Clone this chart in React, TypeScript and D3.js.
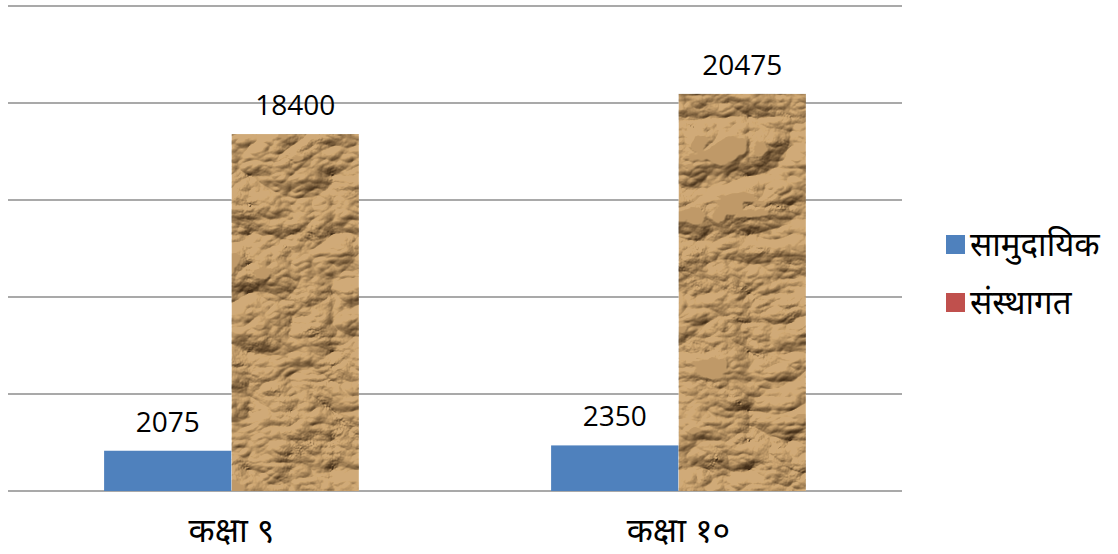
import React from "react";
import * as d3 from "d3";

const categories = ["कक्षा ९", "कक्षा १०"];
const seriesNames = ["सामुदायिक", "संस्थागत"];
const communityValues = [2075, 2350];
const institutionalValues = [18400, 20475];
const yTicks = [0, 5000, 10000, 15000, 20000, 25000];

const W = 1118;
const H = 554;
const margin = { left: 8, right: 216, top: 6, bottom: 63 };

export default function App() {
  const innerW = W - margin.left - margin.right;
  const x = d3.scaleBand<string>().domain(categories).range([margin.left, margin.left + innerW]).paddingInner(0.43).paddingOuter(0.215);
  const y = d3.scaleLinear().domain([0, 25000]).range([H - margin.bottom, margin.top]);
  const xs = d3.scaleBand<number>().domain([0, 1]).range([0, x.bandwidth()]);
  const font = "'Open Sans', 'Noto Sans', sans-serif";
  const series = [communityValues, institutionalValues];
  return (
    <svg width={W} height={H} style={{ position: "absolute", left: 0, top: 0, background: "#fff" }}>
      <defs>
        <filter id="crumple" x="0" y="0" width="100%" height="100%" filterUnits="objectBoundingBox" colorInterpolationFilters="sRGB">
          <feTurbulence type="turbulence" baseFrequency="0.012 0.017" numOctaves="4" seed="11" result="noise" />
          <feColorMatrix in="noise" type="matrix" values="0 0 0 0 0  0 0 0 0 0  0 0 0 0 0  1.3 0.5 0 0 0" result="bump" />
          <feDiffuseLighting in="bump" surfaceScale="6" diffuseConstant="1" lightingColor="#ffffff" result="lit">
            <feDistantLight azimuth="235" elevation="45" />
          </feDiffuseLighting>
          <feComponentTransfer in="lit" result="soft">
            <feFuncR type="linear" slope="0.85" intercept="0.32" />
            <feFuncG type="linear" slope="0.9" intercept="0.27" />
            <feFuncB type="linear" slope="0.95" intercept="0.2" />
          </feComponentTransfer>
          <feBlend in="soft" in2="SourceGraphic" mode="multiply" result="col" />
          <feComposite in="col" in2="SourceGraphic" operator="in" />
        </filter>
      </defs>
      {yTicks.map((t) => (
        <line key={t} x1={margin.left} x2={margin.left + innerW} y1={y(t)} y2={y(t)} stroke="#8c8c8c" strokeWidth={1.6} />
      ))}
      {categories.map((c, i) => (
        <g key={c}>
          {series.map((vals, s) => {
            const bx = (x(c) as number) + (xs(s) as number);
            const by = y(vals[i]);
            return (
              <g key={s}>
                <rect
                  x={bx}
                  y={by}
                  width={xs.bandwidth()}
                  height={y(0) - by}
                  fill={s === 0 ? "#4f81bd" : "#d0aa78"}
                  filter={s === 1 ? "url(#crumple)" : undefined}
                />
                <text x={bx + xs.bandwidth() / 2} y={by - 19} textAnchor="middle" fontFamily={font} fontSize={28} fill="#000">
                  {vals[i]}
                </text>
              </g>
            );
          })}
          <text x={(x(c) as number) + x.bandwidth() / 2} y={542} textAnchor="middle" fontFamily={font} fontSize={34} fill="#000">
            {c}
          </text>
        </g>
      ))}
      {seriesNames.map((n, s) => (
        <g key={n} transform={`translate(946, ${235 + s * 58})`}>
          <rect x={0} y={0} width={19} height={19} fill={s === 0 ? "#4f81bd" : "#c0504d"} />
          <text x={24} y={21} fontFamily={font} fontSize={33} fill="#000">
            {n}
          </text>
        </g>
      ))}
    </svg>
  );
}
